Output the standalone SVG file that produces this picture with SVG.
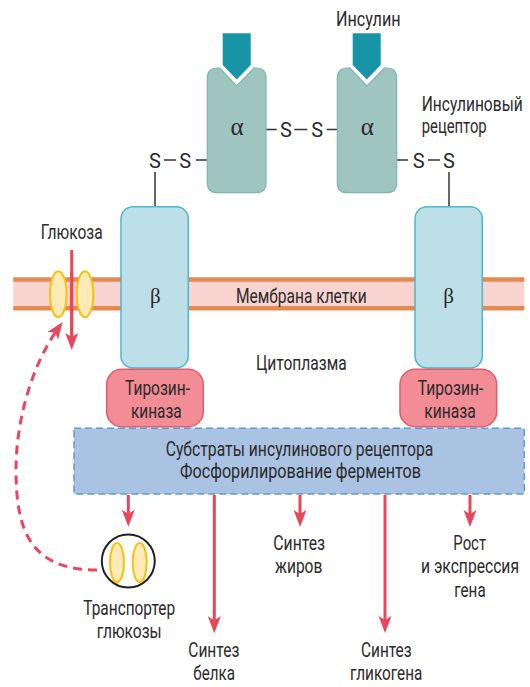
<svg xmlns="http://www.w3.org/2000/svg" width="530" height="687" viewBox="0 0 530 687">
  <defs>
    <style>
      .t { font-family: Roboto, "Liberation Sans", "Noto Sans", sans-serif; font-size: 20px; fill: #2a2a2a; }
      .mid { text-anchor: middle; }
      .greek { font-family: "Liberation Serif", "DejaVu Serif", serif; fill: #2a2a2a; text-anchor: middle; }
      .alpha { fill: #9ec5bf; stroke: #7fb5ad; stroke-width: 1.2; }
      .beta { fill: #bddfe8; stroke: #4db7cc; stroke-width: 1.5; }
      .kinase { fill: #f28c95; stroke: #e45a6a; stroke-width: 1.5; }
      .insulin { fill: #1795a6; }
      .bond { stroke: #333; stroke-width: 1.5; fill: none; }
      .arrow { stroke: #e8475b; stroke-width: 3; fill: none; marker-end: url(#ah); }
      .glut { fill: #fdeab7; stroke: #f6c10f; stroke-width: 2; }
    </style>
    <marker id="ah" markerUnits="userSpaceOnUse" markerWidth="20" markerHeight="16" viewBox="0 -8 18 16" refX="9" refY="0" orient="auto">
      <path d="M0,-6.5 L17,0 L0,6.5 L4,0 Z" fill="#e8475b"/>
    </marker>
  </defs>

  <rect width="530" height="687" fill="#ffffff"/>

  <!-- cell membrane -->
  <g id="membrane">
    <rect x="13.3" y="279.5" width="511" height="28.8" fill="#f9d3cf"/>
    <line x1="13.3" y1="279.5" x2="524.3" y2="279.5" stroke="#e58a4e" stroke-width="4.5"/>
    <line x1="13.3" y1="308.3" x2="524.3" y2="308.3" stroke="#e58a4e" stroke-width="4.5"/>
    <text class="t mid" x="301.3" y="302.7" textLength="130.7" lengthAdjust="spacingAndGlyphs">Мембрана клетки</text>
  </g>

  <text id="cytoplasm" class="t mid" x="301.3" y="370" textLength="90.7" lengthAdjust="spacingAndGlyphs">Цитоплазма</text>

  <!-- disulfide bonds and linkers -->
  <g id="connectors">
    <g id="bonds">
      <line class="bond" x1="266" y1="129.5" x2="276.7" y2="129.5"/>
      <line class="bond" x1="294.3" y1="129.5" x2="307.3" y2="129.5"/>
      <line class="bond" x1="326.7" y1="129.5" x2="337.3" y2="129.5"/>
      <line class="bond" x1="196" y1="160" x2="207.3" y2="160"/>
      <line class="bond" x1="164" y1="160" x2="176" y2="160"/>
      <line class="bond" x1="155" y1="172" x2="155" y2="207"/>
      <line class="bond" x1="396.7" y1="160" x2="408" y2="160"/>
      <line class="bond" x1="428" y1="160" x2="440" y2="160"/>
      <line class="bond" x1="449" y1="172" x2="449" y2="207"/>
    </g>
    <!-- signalling outputs -->
    <line class="arrow" x1="71.7" y1="250" x2="71.7" y2="342"/>
    <line class="arrow" x1="128.3" y1="495" x2="128.3" y2="518.7"/>
    <line class="arrow" x1="214.3" y1="495" x2="214.3" y2="625.3"/>
    <line class="arrow" x1="300" y1="495" x2="300" y2="519"/>
    <line class="arrow" x1="385" y1="495" x2="385" y2="625"/>
    <line class="arrow" x1="470" y1="495" x2="470" y2="519"/>
    <path class="arrow" stroke-dasharray="9 6" d="M97,570 C30,570 16,530 16,470 C16,420 32,365 58,328.5"/>
  </g>

  <g id="s-labels" class="t mid">
    <text x="286" y="136.7">S</text>
    <text x="317.3" y="136.7">S</text>
    <text x="155" y="168">S</text>
    <text x="185.3" y="168">S</text>
    <text x="418.7" y="168">S</text>
    <text x="449" y="168">S</text>
  </g>

  <!-- alpha subunits -->
  <g id="alpha-left">
    <path class="alpha" d="M219.5,68 L236.7,86 L253.9,68 L256,68 Q266,68 266,78 L266,182.7 Q266,192.7 256,192.7 L217.3,192.7 Q207.3,192.7 207.3,182.7 L207.3,78 Q207.3,68 217.3,68 Z"/>
    <text class="greek" x="237" y="135" font-size="25">α</text>
  </g>
  <g id="alpha-right">
    <path class="alpha" d="M349.8,68 L367,86 L384.2,68 L386.7,68 Q396.7,68 396.7,78 L396.7,182.7 Q396.7,192.7 386.7,192.7 L347.3,192.7 Q337.3,192.7 337.3,182.7 L337.3,78 Q337.3,68 347.3,68 Z"/>
    <text class="greek" x="367.3" y="135" font-size="25">α</text>
  </g>

  <!-- insulin -->
  <g id="insulin-left">
    <path class="insulin" d="M222.7,33.3 L250.7,33.3 L250.7,65 L236.7,79.5 L222.7,65 Z"/>
  </g>
  <g id="insulin-right">
    <path class="insulin" d="M352.7,33.3 L380.7,33.3 L380.7,65 L366.7,79.5 L352.7,65 Z"/>
    <text class="t mid" x="368.3" y="26" textLength="64.7" lengthAdjust="spacingAndGlyphs">Инсулин</text>
  </g>

  <g id="receptor-label" class="t">
    <text x="421.7" y="111" textLength="101" lengthAdjust="spacingAndGlyphs">Инсулиновый</text>
    <text x="421.7" y="133" textLength="65" lengthAdjust="spacingAndGlyphs">рецептор</text>
  </g>

  <!-- beta subunits -->
  <g id="beta-left">
    <rect class="beta" x="121" y="206.7" width="67.3" height="161.3" rx="12"/>
    <text class="greek" x="155.3" y="303" font-size="21">β</text>
  </g>
  <g id="beta-right">
    <rect class="beta" x="415" y="206.7" width="67.3" height="161.3" rx="12"/>
    <text class="greek" x="448.5" y="303" font-size="21">β</text>
  </g>

  <!-- tyrosine kinase domains -->
  <g id="kinase-left">
    <rect class="kinase" x="106.7" y="369.3" width="96.6" height="57.4" rx="15"/>
    <text class="t mid" x="157.5" y="395" textLength="65" lengthAdjust="spacingAndGlyphs">Тирозин-</text>
    <text class="t mid" x="156.3" y="418.3" textLength="50.7" lengthAdjust="spacingAndGlyphs">киназа</text>
  </g>
  <g id="kinase-right">
    <rect class="kinase" x="400" y="369.3" width="96.7" height="57.4" rx="15"/>
    <text class="t mid" x="450.5" y="395" textLength="65.6" lengthAdjust="spacingAndGlyphs">Тирозин-</text>
    <text class="t mid" x="450" y="418.3" textLength="51.4" lengthAdjust="spacingAndGlyphs">киназа</text>
  </g>

  <!-- glucose channel in membrane -->
  <g id="glucose-channel">
    <ellipse class="glut" cx="58.3" cy="294.2" rx="8.3" ry="23"/>
    <ellipse class="glut" cx="85" cy="294.2" rx="8.3" ry="23"/>
    <text class="t mid" x="71.7" y="239.3" textLength="62" lengthAdjust="spacingAndGlyphs">Глюкоза</text>
  </g>
  <line x1="71.7" y1="272" x2="71.7" y2="342" stroke="#e8475b" stroke-width="3"/>

  <!-- substrate box -->
  <g id="substrates">
    <rect x="74" y="428.3" width="450.3" height="65.7" fill="#abc3e3" stroke="#5b9bd5" stroke-width="1.5" stroke-dasharray="7 4"/>
    <text class="t mid" x="299.5" y="456" textLength="267.7" lengthAdjust="spacingAndGlyphs">Субстраты инсулинового рецептора</text>
    <text class="t mid" x="300.5" y="478.3" textLength="241" lengthAdjust="spacingAndGlyphs">Фосфорилирование ферментов</text>
  </g>

  <!-- glucose transporter -->
  <g id="transporter">
    <circle cx="128.3" cy="561" r="26.5" fill="#ffffff" stroke="#222" stroke-width="2"/>
    <ellipse class="glut" cx="117" cy="562.5" rx="7" ry="19.5"/>
    <ellipse class="glut" cx="139.7" cy="562.5" rx="7" ry="19.5"/>
    <text class="t mid" x="129.2" y="615" textLength="91.7" lengthAdjust="spacingAndGlyphs">Транспортер</text>
    <text class="t mid" x="129.2" y="638.3" textLength="65" lengthAdjust="spacingAndGlyphs">глюкозы</text>
  </g>

  <g id="protein-synthesis" class="t mid">
    <text x="213.8" y="657.3" textLength="51" lengthAdjust="spacingAndGlyphs">Синтез</text>
    <text x="214.2" y="680" textLength="41.7" lengthAdjust="spacingAndGlyphs">белка</text>
  </g>
  <g id="fat-synthesis" class="t mid">
    <text x="299.2" y="550" textLength="51.7" lengthAdjust="spacingAndGlyphs">Синтез</text>
    <text x="298.7" y="572.7" textLength="47.3" lengthAdjust="spacingAndGlyphs">жиров</text>
  </g>
  <g id="glycogen-synthesis" class="t mid">
    <text x="386.3" y="657.3" textLength="50.7" lengthAdjust="spacingAndGlyphs">Синтез</text>
    <text x="386.2" y="680" textLength="72.3" lengthAdjust="spacingAndGlyphs">гликогена</text>
  </g>
  <g id="growth" class="t mid">
    <text x="469.7" y="550" textLength="32.7" lengthAdjust="spacingAndGlyphs">Рост</text>
    <text x="470" y="572.7" textLength="98" lengthAdjust="spacingAndGlyphs">и экспрессия</text>
    <text x="470" y="596.7" textLength="31.3" lengthAdjust="spacingAndGlyphs">гена</text>
  </g>
</svg>
